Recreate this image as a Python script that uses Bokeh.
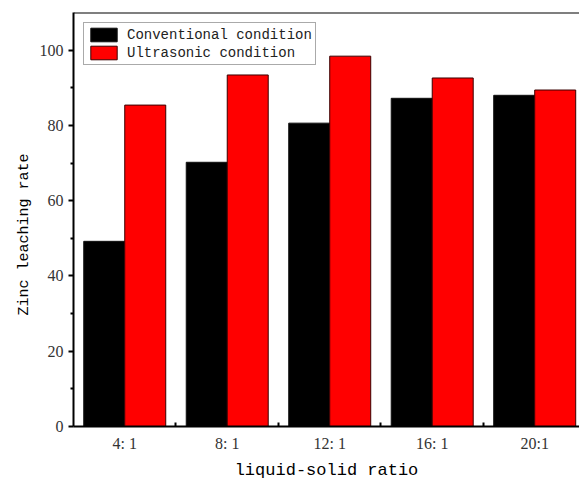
import numpy as np
from bokeh.plotting import figure
from bokeh.models import ColumnDataSource, Range1d, FixedTicker, Span, Title
from bokeh.transform import dodge
from bokeh.embed import file_html
from bokeh.resources import INLINE

categories = ["4: 1", "8: 1", "12: 1", "16: 1", "20:1"]
conventional = [49.2, 70.2, 80.6, 87.2, 88.0]
ultrasonic = [85.4, 93.4, 98.4, 92.6, 89.4]
series_names = ["Conventional condition", "Ultrasonic condition"]
y_ticks = [0, 20, 40, 60, 80, 100]
y_minor_ticks = [10, 30, 50, 70, 90]

pos = list(range(len(categories)))
mid = [i + 0.5 for i in pos[:-1]]
src = ColumnDataSource(dict(pos=pos, conv=conventional, ultra=ultrasonic))

p = figure(width=579, height=482, output_backend="svg", toolbar_location=None,
           x_range=Range1d(-0.5, 4.437), y_range=Range1d(0, 110),
           min_border_left=73, min_border_right=0, min_border_top=12,
           min_border_bottom=56)
p.outline_line_color = None
p.xgrid.visible = False
p.ygrid.visible = False
p.background_fill_color = "white"
p.border_fill_color = "white"

p.vbar(x=dodge('pos', -0.2), top='conv', width=0.4, source=src,
       fill_color="black", line_color="#111111", line_width=1,
       legend_label=series_names[0])
p.vbar(x=dodge('pos', 0.2), top='ultra', width=0.4, source=src,
       fill_color="#ff0000", line_color="#3a0000", line_width=1,
       legend_label=series_names[1])

p.add_layout(Span(location=110, dimension="width", line_color="black", line_width=2))

# y axis
ya = p.yaxis[0]
ya.ticker = FixedTicker(ticks=y_ticks, minor_ticks=y_minor_ticks)
ya.axis_line_width = 2
ya.major_tick_line_width = 2
ya.minor_tick_line_width = 2
ya.major_tick_out = 5
ya.major_tick_in = 0
ya.minor_tick_out = 3
ya.minor_tick_in = 0
ya.major_label_standoff = 5
ya.major_label_text_font = "Liberation Serif"
ya.major_label_text_font_size = "16px"
ya.major_label_text_color = "#333333"

# x axis
xa = p.xaxis[0]
xa.ticker = FixedTicker(ticks=pos, minor_ticks=mid)
xa.major_label_overrides = {i: c for i, c in zip(pos, categories)}
xa.axis_line_width = 2
xa.major_tick_line_color = None
xa.major_tick_out = 0
xa.major_tick_in = 0
xa.minor_tick_in = 4
xa.minor_tick_out = 0
xa.minor_tick_line_width = 2
xa.major_label_standoff = 8
xa.major_label_text_font = "Liberation Serif"
xa.major_label_text_font_size = "16px"
xa.major_label_text_color = "#333333"
xa.axis_label = "liquid-solid ratio"
xa.axis_label_text_font = "Liberation Mono"
xa.axis_label_text_font_size = "17px"
xa.axis_label_text_font_style = "normal"
xa.axis_label_text_color = "black"
xa.axis_label_standoff = 6

ytitle = Title(text="Zinc leaching rate", align="left", offset=111,
               text_font="Liberation Mono", text_font_size="15px",
               text_font_style="normal", text_color="black", standoff=7)
p.add_layout(ytitle, "left")

lg = p.legend[0]
lg.location = "top_left"
lg.margin = 10
lg.padding = 3
lg.spacing = 1
lg.glyph_width = 33
lg.glyph_height = 17
lg.label_height = 17
lg.label_standoff = 7
lg.label_text_font = "Liberation Mono"
lg.label_text_font_size = "14px"
lg.label_text_color = "#222222"
lg.border_line_color = "#555555"
lg.border_line_width = 1
lg.background_fill_alpha = 1

open("out.html", "w").write(file_html(p, INLINE))
